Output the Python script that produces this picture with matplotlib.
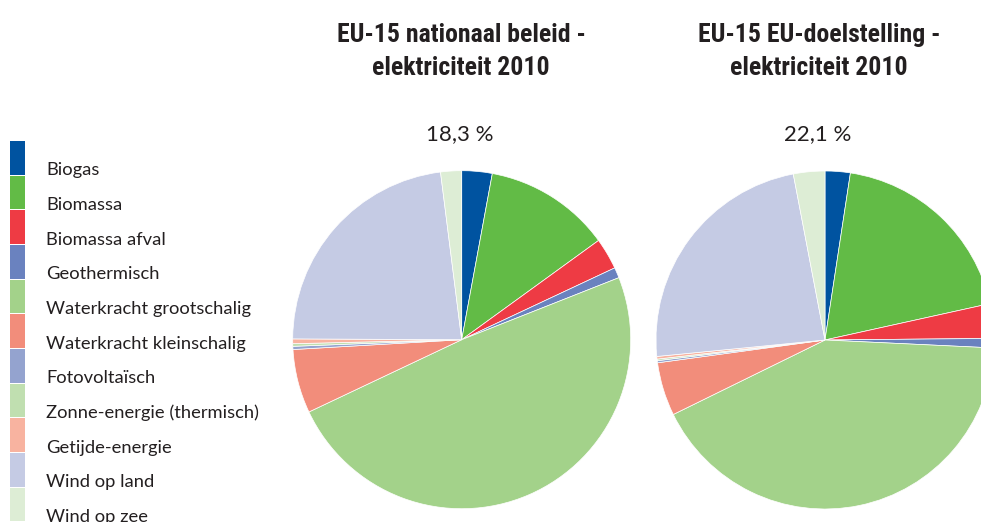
import matplotlib
matplotlib.use("Agg")
import matplotlib.pyplot as plt
from matplotlib.patches import Rectangle

# Energy sources (legend order = wedge order, clockwise from 12 o'clock)
categories = [
    "Biogas",
    "Biomassa",
    "Biomassa afval",
    "Geothermisch",
    "Waterkracht grootschalig",
    "Waterkracht kleinschalig",
    "Fotovolta\u00efsch",
    "Zonne-energie (thermisch)",
    "Getijde-energie",
    "Wind op land",
    "Wind op zee",
]

colors = [
    "#0053A0", "#62BB46", "#EE3B44", "#6A82BF", "#A3D28A", "#F28D7B",
    "#94A3CF", "#C0DFB0", "#F8B3A0", "#C5CBE4", "#DDEDD5",
]

# Share of renewable electricity per source (%)
nationaal_beleid = [2.9, 12.1, 3.0, 1.0, 48.9, 6.1, 0.3, 0.25, 0.45, 22.9, 2.0]
eu_doelstelling = [2.4, 19.1, 3.3, 0.9, 41.9, 5.1, 0.2, 0.15, 0.25, 23.5, 3.0]

titles = [
    ("EU-15 nationaal beleid -", "elektriciteit 2010"),
    ("EU-15 EU-doelstelling -", "elektriciteit 2010"),
]
totals = ["18,3 %", "22,1 %"]

W, H = 981, 522
fig = plt.figure(figsize=(W / 100, H / 100), dpi=100)
fig.patch.set_facecolor("white")

TEXT = "#231F20"
TITLE_FONT = ["Roboto Condensed", "Roboto", "DejaVu Sans"]
BODY_FONT = ["Lato", "DejaVu Sans"]

radius_px = 169
pie_centers = [(461.7, 339.7), (825.0, 340.0)]  # pixel positions from top-left
heading_x = [461.0, 819.0]                        # centre of each heading block

for (cx, cy), hx, vals, (t1, t2), tot in zip(pie_centers, heading_x,
                                             [nationaal_beleid, eu_doelstelling], titles, totals):
    ax = fig.add_axes([
        (cx - radius_px) / W,
        (H - cy - radius_px) / H,
        2 * radius_px / W,
        2 * radius_px / H,
    ])
    ax.pie(
        vals,
        colors=colors,
        startangle=90,
        counterclock=False,
        radius=1.0,
        wedgeprops=dict(edgecolor="white", linewidth=0.5),
    )
    ax.set_xlim(-1, 1)
    ax.set_ylim(-1, 1)
    ax.axis("off")

    fig.text(hx / W, 1 - 41.7 / H, t1, ha="center", va="baseline",
             fontsize=18.5, fontweight="bold", color=TEXT, family=TITLE_FONT)
    fig.text(hx / W, 1 - 75.0 / H, t2, ha="center", va="baseline",
             fontsize=18.5, fontweight="bold", color=TEXT, family=TITLE_FONT)
    fig.text((hx - 1) / W, 1 - 140.0 / H, tot, ha="center", va="baseline",
             fontsize=16, color=TEXT, family=BODY_FONT)

# Legend: stacked colour swatches with labels to the right
sw_top = 141.0
sw_h = 34.67
for i, (name, col) in enumerate(zip(categories, colors)):
    top = sw_top + i * sw_h
    fig.patches.append(Rectangle(
        (10 / W, 1 - (top + sw_h - 1) / H), 15 / W, (sw_h - 1) / H,
        transform=fig.transFigure, facecolor=col, edgecolor="none",
    ))
    fig.text(46 / W, 1 - (top + sw_h - 0.5) / H, name, ha="left", va="baseline",
             fontsize=13.2, color=TEXT, family=BODY_FONT)

fig.savefig("out.png", dpi=100)
